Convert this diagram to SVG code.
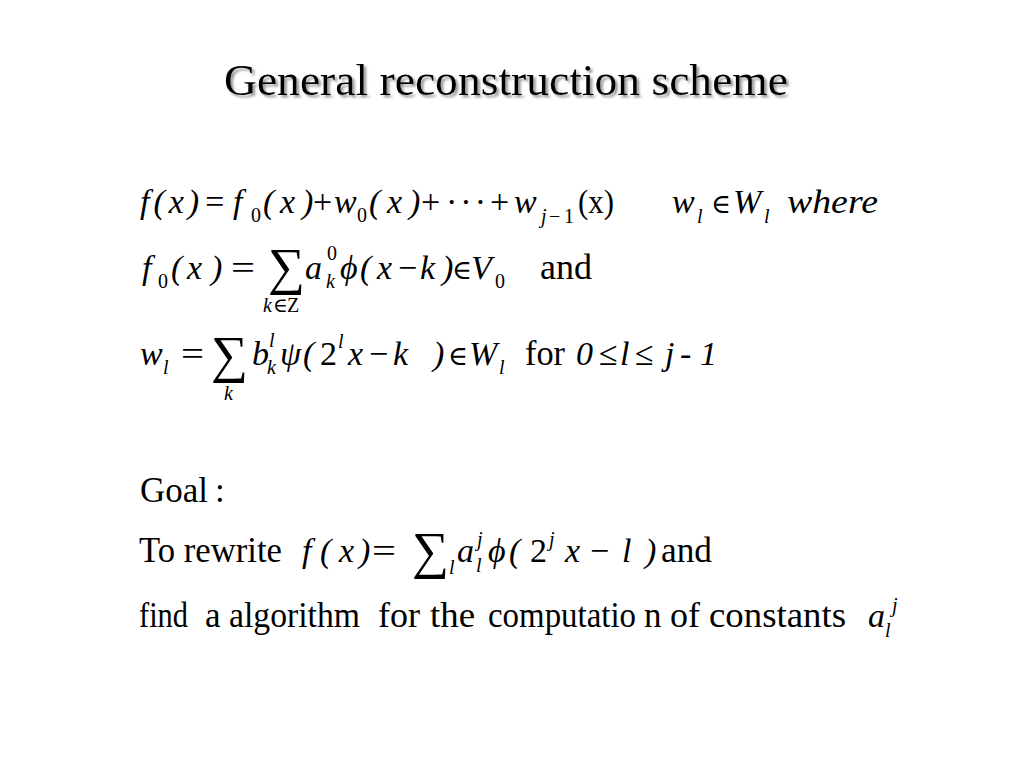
<svg xmlns="http://www.w3.org/2000/svg" width="1024" height="768" viewBox="0 0 1024 768">
<defs>
<filter id="shadow" x="-5%" y="-20%" width="110%" height="150%">
<feDropShadow dx="2.5" dy="2.5" stdDeviation="1" flood-color="#808080" flood-opacity="0.8"/>
</filter>
<style>
text{font-family:"Liberation Serif","DejaVu Serif",serif;fill:#000}
.i{font-style:italic}
.m{font-size:34px}
.s{font-size:20px}
.g{font-size:35px}
.e{font-size:27px}
.sum{font-size:52px}
</style>
</defs>
<rect width="1024" height="768" fill="#fff"/>
<g id="title">
<text x="224" y="95" font-size="45" textLength="564" lengthAdjust="spacingAndGlyphs" filter="url(#shadow)">General reconstruction scheme</text>
</g>
<g id="line1">
<text class="m i" x="140" y="213" textLength="86" lengthAdjust="spacing">f(x)=</text>
<text class="m i" x="233" y="213">f</text>
<text class="s" x="251" y="222">0</text>
<text class="m i" x="263" y="213">(</text>
<text class="m i" x="280" y="213">x</text>
<text class="m i" x="302" y="213">)</text>
<text class="m" x="313" y="213">+</text>
<text class="m i" x="334" y="213">w</text>
<text class="s" x="357" y="222">0</text>
<text class="m i" x="369" y="213">(</text>
<text class="m i" x="387" y="213">x</text>
<text class="m i" x="409" y="213">)</text>
<text class="m" x="421" y="213">+</text>
<text class="m" x="446" y="213" textLength="40" lengthAdjust="spacing">···</text>
<text class="m" x="490" y="213">+</text>
<text class="m i" x="514" y="213">w</text>
<text class="s i" x="541" y="223">j</text>
<text class="s" x="549" y="223">−</text>
<text class="s" x="564" y="223">1</text>
<text class="m" x="578" y="213" textLength="36" lengthAdjust="spacingAndGlyphs">(x)</text>
<text class="m i" x="672" y="213">w</text>
<text class="s i" x="697" y="223">l</text>
<text class="e" x="711" y="213">∈</text>
<text class="m i" x="733" y="213">W</text>
<text class="s i" x="764" y="223">l</text>
<text class="m i" x="787" y="213" textLength="91" lengthAdjust="spacingAndGlyphs">where</text>
</g>
<g id="line2">
<text class="m i" x="142" y="279">f</text>
<text class="s" x="158" y="288">0</text>
<text class="m i" x="171" y="279">(</text>
<text class="m i" x="187" y="279">x</text>
<text class="m i" x="211" y="279">)</text>
<text class="m" x="231" y="279" textLength="24" lengthAdjust="spacingAndGlyphs">=</text>
<text class="sum" x="268" y="284">∑</text>
<text class="s i" x="263" y="312">k</text>
<text class="s" x="273" y="312">∈</text>
<text class="s" x="287" y="312">Z</text>
<text class="m i" x="305" y="279">a</text>
<text class="s" x="327" y="260">0</text>
<text class="s i" x="326" y="288">k</text>
<text class="m i" x="340" y="279">ϕ</text>
<text class="m i" x="360" y="279">(</text>
<text class="m i" x="377" y="279">x</text>
<text class="m" x="398" y="279">−</text>
<text class="m i" x="420" y="279">k</text>
<text class="m i" x="442" y="279">)</text>
<text class="e" x="452" y="279">∈</text>
<text class="m i" x="471" y="279">V</text>
<text class="s" x="495" y="288">0</text>
<text class="g" x="540" y="279" textLength="52" lengthAdjust="spacingAndGlyphs">and</text>
</g>
<g id="line3">
<text class="m i" x="140" y="365">w</text>
<text class="s i" x="163" y="374">l</text>
<text class="m" x="181" y="365" textLength="23" lengthAdjust="spacingAndGlyphs">=</text>
<text class="sum" x="211" y="372" font-size="56">∑</text>
<text class="s i" x="224" y="400">k</text>
<text class="m i" x="252" y="365">b</text>
<text class="s i" x="269" y="347">l</text>
<text class="s i" x="267" y="374">k</text>
<text class="m i" x="280" y="365">ψ</text>
<text class="m i" x="303" y="365">(</text>
<text class="m" x="320" y="365">2</text>
<text class="s i" x="338" y="348">l</text>
<text class="m i" x="348" y="365">x</text>
<text class="m" x="369" y="365">−</text>
<text class="m i" x="393" y="365">k</text>
<text class="m i" x="433" y="365">)</text>
<text class="e" x="448" y="365">∈</text>
<text class="m i" x="469" y="365">W</text>
<text class="s i" x="499" y="374">l</text>
<text class="g" x="525" y="365" textLength="40" lengthAdjust="spacingAndGlyphs">for</text>
<text class="m i" x="576" y="365">0</text>
<text class="m" x="599" y="365">≤</text>
<text class="m i" x="620" y="365">l</text>
<text class="m" x="635" y="365">≤</text>
<text class="m i" x="665" y="365">j</text>
<text class="m i" x="680" y="365">-</text>
<text class="m i" x="700" y="365">1</text>
</g>
<g id="goal">
<text class="g" x="140" y="502" textLength="68" lengthAdjust="spacingAndGlyphs">Goal</text>
<text class="g" x="215" y="502">:</text>
</g>
<g id="rewrite">
<text class="g" x="139" y="562" textLength="143" lengthAdjust="spacingAndGlyphs">To rewrite</text>
<text class="m i" x="302" y="562">f</text>
<text class="m i" x="320" y="562">(</text>
<text class="m i" x="339" y="562">x</text>
<text class="m i" x="359" y="562">)</text>
<text class="m" x="372" y="562" textLength="24" lengthAdjust="spacingAndGlyphs">=</text>
<text class="sum" x="412" y="568" font-size="42">∑</text>
<text class="s i" x="449" y="574">l</text>
<text class="m i" x="457" y="562">a</text>
<text class="s i" x="477" y="546">j</text>
<text class="s i" x="476" y="572">l</text>
<text class="m i" x="488" y="562">ϕ</text>
<text class="m i" x="509" y="562">(</text>
<text class="m" x="530" y="562">2</text>
<text class="s i" x="549" y="546">j</text>
<text class="m i" x="565" y="562">x</text>
<text class="m" x="590" y="562">−</text>
<text class="m i" x="622" y="562">l</text>
<text class="m i" x="645" y="562">)</text>
<text class="g" x="661" y="562" textLength="51" lengthAdjust="spacingAndGlyphs">and</text>
</g>
<g id="find">
<text class="g" x="139" y="627" textLength="49" lengthAdjust="spacingAndGlyphs">find</text>
<text class="g" x="205" y="627">a</text>
<text class="g" x="229" y="627" textLength="131" lengthAdjust="spacingAndGlyphs">algorithm</text>
<text class="g" x="378" y="627" textLength="42" lengthAdjust="spacingAndGlyphs">for</text>
<text class="g" x="430" y="627" textLength="45" lengthAdjust="spacingAndGlyphs">the</text>
<text class="g" x="488" y="627" textLength="148" lengthAdjust="spacingAndGlyphs">computatio</text>
<text class="g" x="644" y="627">n</text>
<text class="g" x="670" y="627" textLength="30" lengthAdjust="spacingAndGlyphs">of</text>
<text class="g" x="709" y="627" textLength="137" lengthAdjust="spacingAndGlyphs">constants</text>
<text class="m i" x="868" y="627">a</text>
<text class="s i" x="892" y="612">j</text>
<text class="s i" x="885" y="637">l</text>
</g>
</svg>
